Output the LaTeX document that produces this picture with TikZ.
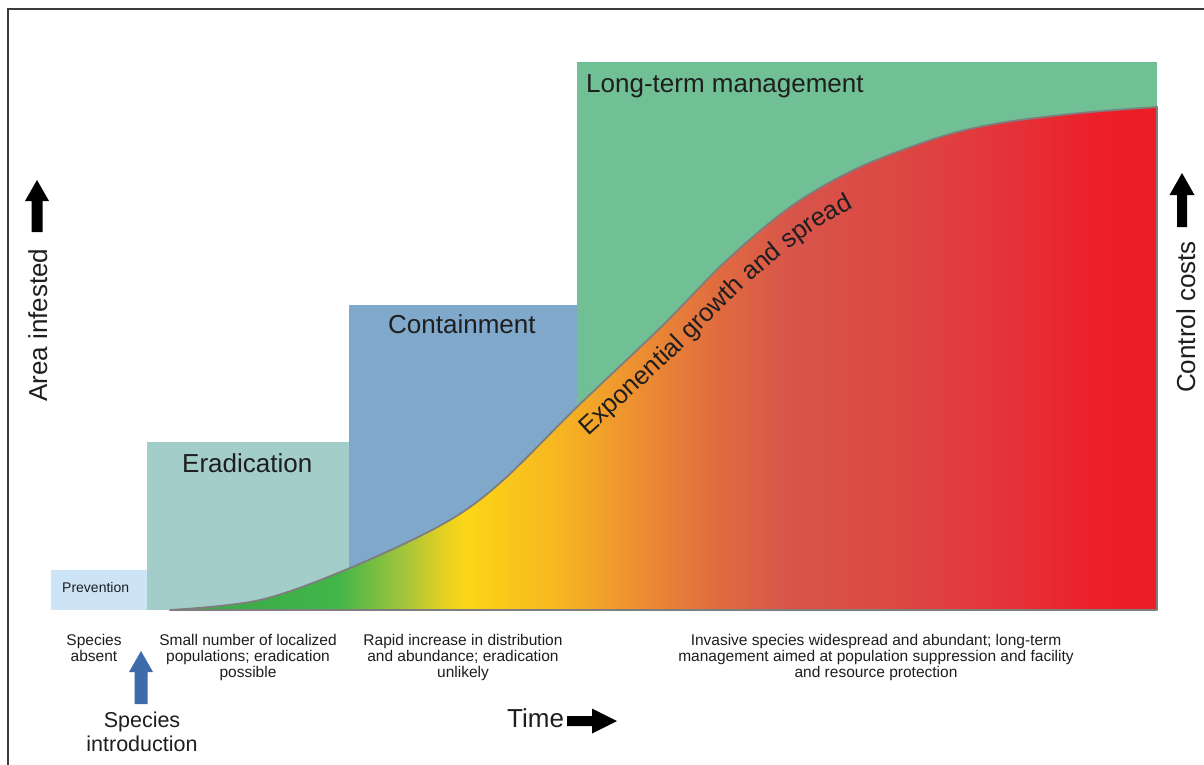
\documentclass[tikz,border=0pt]{standalone}
\usepackage{fontspec}
\setmainfont{Liberation Sans}
\usetikzlibrary{decorations.text}
\definecolor{prevfill}{HTML}{CDE3F6}
\definecolor{eradfill}{HTML}{A2CDC8}
\definecolor{contfill}{HTML}{80A8CA}
\definecolor{ltmfill}{HTML}{71C095}
\definecolor{curvegray}{HTML}{7E7E7E}
\definecolor{framegray}{HTML}{3C3C3C}
\definecolor{txt}{HTML}{1E1E1E}
\definecolor{bluearrow}{HTML}{3E6BAA}
\definecolor{gA}{HTML}{38A848}
\definecolor{gB}{HTML}{42B549}
\definecolor{gC}{HTML}{A5C53B}
\definecolor{gD}{HTML}{E3D023}
\definecolor{gE}{HTML}{FCD616}
\definecolor{gF}{HTML}{F6B521}
\definecolor{gG}{HTML}{EC8D32}
\definecolor{gH}{HTML}{E06A40}
\definecolor{gI}{HTML}{D7554A}
\definecolor{gJ}{HTML}{DD4743}
\definecolor{gK}{HTML}{E4343A}
\definecolor{gL}{HTML}{EC1F2A}
\definecolor{gM}{HTML}{EE1C25}
\pgfdeclarehorizontalshading{growth}{100bp}{color(0bp)=(gA); color(25bp)=(gA); color(33.5bp)=(gB); color(36.9bp)=(gC); color(38.8bp)=(gD); color(40bp)=(gE); color(44.76bp)=(gF); color(48.81bp)=(gG); color(52.86bp)=(gH); color(56.41bp)=(gI); color(61.98bp)=(gJ); color(67.05bp)=(gK); color(72.11bp)=(gL); color(75bp)=(gM); color(100bp)=(gM)}
\newcommand\bigfont{\fontsize{26}{30}\selectfont}
\newcommand\midfont{\fontsize{21.5}{24}\selectfont}
\newcommand\smallfont{\fontsize{15.5}{16}\selectfont}
\newcommand\expfont{\fontsize{25.5}{30}\selectfont}
\begin{document}
\begin{tikzpicture}[x=1pt,y=-1pt,
  lbl/.style={inner sep=0pt, text=txt},
  biglbl/.style={lbl, font=\bigfont},
  smalllbl/.style={lbl, font=\smallfont, align=center, anchor=north},
  framestyle/.style={draw=framegray, line width=1.5pt},
  glyph/.style={fill=black}]
\useasboundingbox (0,0) rectangle (1204,765);
\fill[white] (0,0) rectangle (1204,765);
\draw[framestyle] (8,765) -- (8,9) -- (1204,9);
% stage boxes
\fill[prevfill] (51,570) rectangle (147,610);
\fill[eradfill] (147,442) rectangle (349,610);
\fill[contfill] (349,305) rectangle (577,610);
\fill[ltmfill] (577,62) rectangle (1157,610);
% growth area
\shadedraw[shading=growth, draw=curvegray, line width=1.8pt, line join=round]
  plot[smooth, tension=0.55] coordinates {(170,610) (260,600) (350,568) (443,524) (500,483) (577,407) (660,328) (727,260) (793,205) (860,167) (940,137) (1000,123) (1080,113) (1157,107)}
  -- (1157,610) -- cycle;
% curved label
\path[decorate, decoration={text along path, text align=left, text color=txt,
   text={|\expfont|Exponential growth and spread}}]
  plot[smooth, tension=0.55] coordinates {(588,436) (680,351) (748,284) (812,232) (875,196) (917,178) (957,164)};
% stage labels
\node[lbl, font=\fontsize{14}{16}\selectfont, anchor=base west] (prev) at (62,592) {Prevention};
\node[biglbl, anchor=base west] (erad) at (182,472) {Eradication};
\node[biglbl, anchor=base west] (cont) at (388,333) {Containment};
\node[biglbl, anchor=base west] (ltm) at (586,93) {Long-term management};
% axes labels
\node[biglbl, rotate=90, anchor=base west] (area) at (47,402) {Area infested};
\node[biglbl, rotate=90, anchor=base west] (cost) at (1195,393) {Control costs};
\node[biglbl, anchor=base west] (time) at (507,727) {Time};
% arrows
\fill[glyph] (31.5,232) -- (31.5,201) -- (25,201) -- (37,180) -- (49,201) -- (42.5,201) -- (42.5,232) -- cycle;
\fill[glyph] (1177,227) -- (1177,195) -- (1169.5,195) -- (1182,173) -- (1194.5,195) -- (1187,195) -- (1187,227) -- cycle;
\fill[glyph] (567,716) -- (592,716) -- (592,708.5) -- (617,721) -- (592,733.5) -- (592,726) -- (567,726) -- cycle;
\fill[bluearrow] (134.5,704) -- (134.5,672) -- (129,672) -- (141,651) -- (153,672) -- (147.5,672) -- (147.5,704) -- cycle;
% descriptions
\node[smalllbl] (absent) at (94,634.5) {Species\\absent};
\node[smalllbl] (d1) at (248,634.5) {Small number of localized\\populations; eradication\\possible};
\node[smalllbl] (d2) at (463,634.5) {Rapid increase in distribution\\and abundance; eradication\\unlikely};
\node[smalllbl] (d3) at (876,634.5) {Invasive species widespread and abundant; long-term\\management aimed at population suppression and facility\\and resource protection};
\node[lbl, font=\midfont, align=center, anchor=north] (intro) at (142,712) {Species\\introduction};
\end{tikzpicture}
\end{document}
